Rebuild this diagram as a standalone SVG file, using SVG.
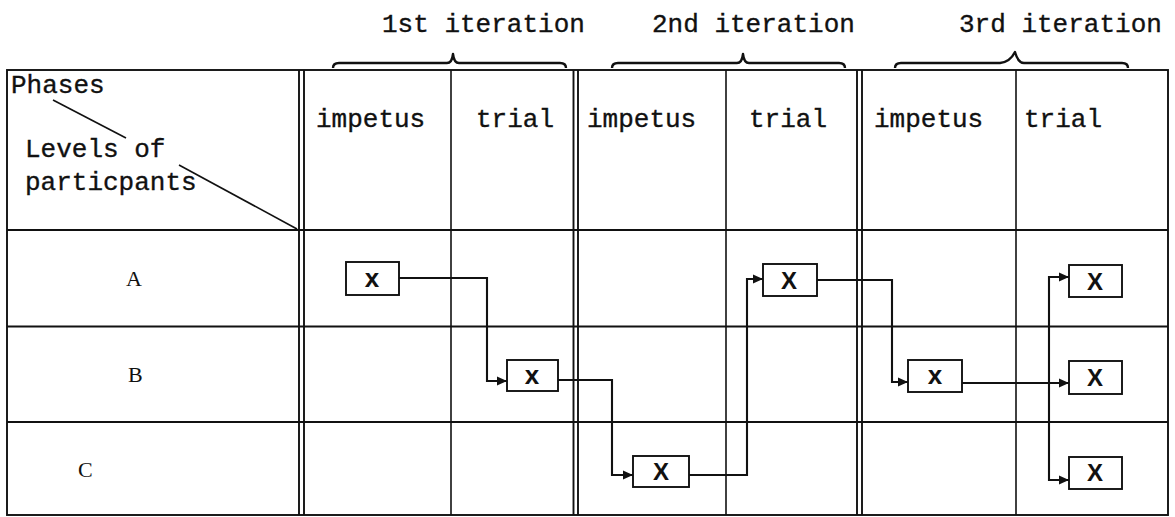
<svg xmlns="http://www.w3.org/2000/svg" width="1175" height="517" viewBox="0 0 1175 517">
<style>
.grid{stroke:#111;stroke-width:1.9;fill:none}
.thin{stroke:#111;stroke-width:1.6;fill:none}
.brace{stroke:#111;stroke-width:2.4;fill:none;stroke-linejoin:round}
.tw{font-family:"Liberation Mono","DejaVu Sans Mono",monospace;font-size:26px;fill:#111;stroke:#111;stroke-width:0.35}
.row{font-family:"Liberation Serif","Times New Roman",serif;font-size:22px;fill:#111}
.box rect{fill:#fff;stroke:#111;stroke-width:1.9}
.box text{font-family:"Liberation Sans",Arial,sans-serif;font-weight:bold;fill:#111;text-anchor:middle}
.conn{stroke:#111;stroke-width:2.1;fill:none}
</style>
<defs>
<marker id="arr" markerUnits="userSpaceOnUse" markerWidth="12" markerHeight="12" refX="10" refY="6" orient="auto">
<path d="M0,1.5 L10,6 L0,10.5 z" fill="#111"/>
</marker>
</defs>
<rect width="1175" height="517" fill="#fff"/>

<g id="iteration-labels">
<text class="tw" x="382" y="32">1st iteration</text>
<path class="brace" d="M333,68 Q333,63 339,63 L447,63 Q452,63 453,54 Q454,63 459,63 L560,63 Q566,63 566,68"/>
<text class="tw" x="652" y="32">2nd iteration</text>
<path class="brace" d="M612,68 Q612,63 618,63 L737,63 Q742,63 743,54 Q744,63 749,63 L839,63 Q845,63 845,68"/>
<text class="tw" x="959" y="32">3rd iteration</text>
<path class="brace" d="M895,68 Q895,63 901,63 L1000,63 Q1010,62 1015,52 Q1018,63 1024,63 L1122,63 Q1128,63 1128,68"/>
</g>

<g id="table">
<rect class="grid" x="7" y="70" width="1161" height="445"/>
<line class="grid" x1="7" y1="230" x2="1168" y2="230"/>
<line class="grid" x1="7" y1="326.5" x2="1168" y2="326.5"/>
<line class="grid" x1="7" y1="422" x2="1168" y2="422"/>
<line class="grid" x1="299" y1="70" x2="299" y2="515"/>
<line class="grid" x1="304" y1="70" x2="304" y2="515"/>
<line class="thin" x1="451" y1="70" x2="451" y2="515"/>
<line class="grid" x1="573.5" y1="70" x2="573.5" y2="515"/>
<line class="grid" x1="578" y1="70" x2="578" y2="515"/>
<line class="thin" x1="726" y1="70" x2="726" y2="515"/>
<line class="grid" x1="857" y1="70" x2="857" y2="515"/>
<line class="grid" x1="862" y1="70" x2="862" y2="515"/>
<line class="thin" x1="1016" y1="70" x2="1016" y2="515"/>
</g>

<g id="corner-header">
<text class="tw" x="11" y="93">Phases</text>
<text class="tw" x="25" y="157">Levels of</text>
<text class="tw" x="25" y="190">particpants</text>
<line class="thin" x1="53" y1="100" x2="126" y2="138"/>
<line class="thin" x1="179" y1="165" x2="297" y2="229"/>
</g>

<g id="phase-headers">
<text class="tw" x="316" y="127">impetus</text>
<text class="tw" x="476" y="127">trial</text>
<text class="tw" x="587" y="127">impetus</text>
<text class="tw" x="749" y="127">trial</text>
<text class="tw" x="874" y="127">impetus</text>
<text class="tw" x="1024" y="127">trial</text>
</g>

<g id="row-labels">
<text class="row" x="126" y="286">A</text>
<text class="row" x="128" y="382">B</text>
<text class="row" x="78" y="477">C</text>
</g>

<g id="connectors">
<path class="conn" d="M399,278 H487 V381 H507" marker-end="url(#arr)"/>
<path class="conn" d="M558,380 H612 V475 H633" marker-end="url(#arr)"/>
<path class="conn" d="M689,475 H747 V279 H763" marker-end="url(#arr)"/>
<path class="conn" d="M817,280 H892 V382 H908" marker-end="url(#arr)"/>
<path class="conn" d="M962,383 H1069" marker-end="url(#arr)"/>
<path class="conn" d="M1049,383 V277 H1069" marker-end="url(#arr)"/>
<path class="conn" d="M1049,383 V480 H1069" marker-end="url(#arr)"/>
</g>

<g id="node-a1" class="box"><rect x="346" y="262" width="53" height="33"/><text x="372" y="287" font-size="26">x</text></g>
<g id="node-b1" class="box"><rect x="507" y="360" width="51" height="31"/><text x="532" y="384" font-size="26">x</text></g>
<g id="node-c2" class="box"><rect x="633" y="456" width="56" height="31"/><text x="661" y="480" font-size="24">X</text></g>
<g id="node-a2" class="box"><rect x="763" y="264" width="54" height="32"/><text x="789" y="289" font-size="24">X</text></g>
<g id="node-b3" class="box"><rect x="908" y="360" width="54" height="32"/><text x="935" y="384" font-size="26">x</text></g>
<g id="node-a4" class="box"><rect x="1069" y="265" width="53" height="32"/><text x="1095" y="290" font-size="24">X</text></g>
<g id="node-b4" class="box"><rect x="1069" y="361" width="53" height="33"/><text x="1095" y="386" font-size="24">X</text></g>
<g id="node-c4" class="box"><rect x="1069" y="457" width="53" height="32"/><text x="1095" y="481" font-size="24">X</text></g>
</svg>
